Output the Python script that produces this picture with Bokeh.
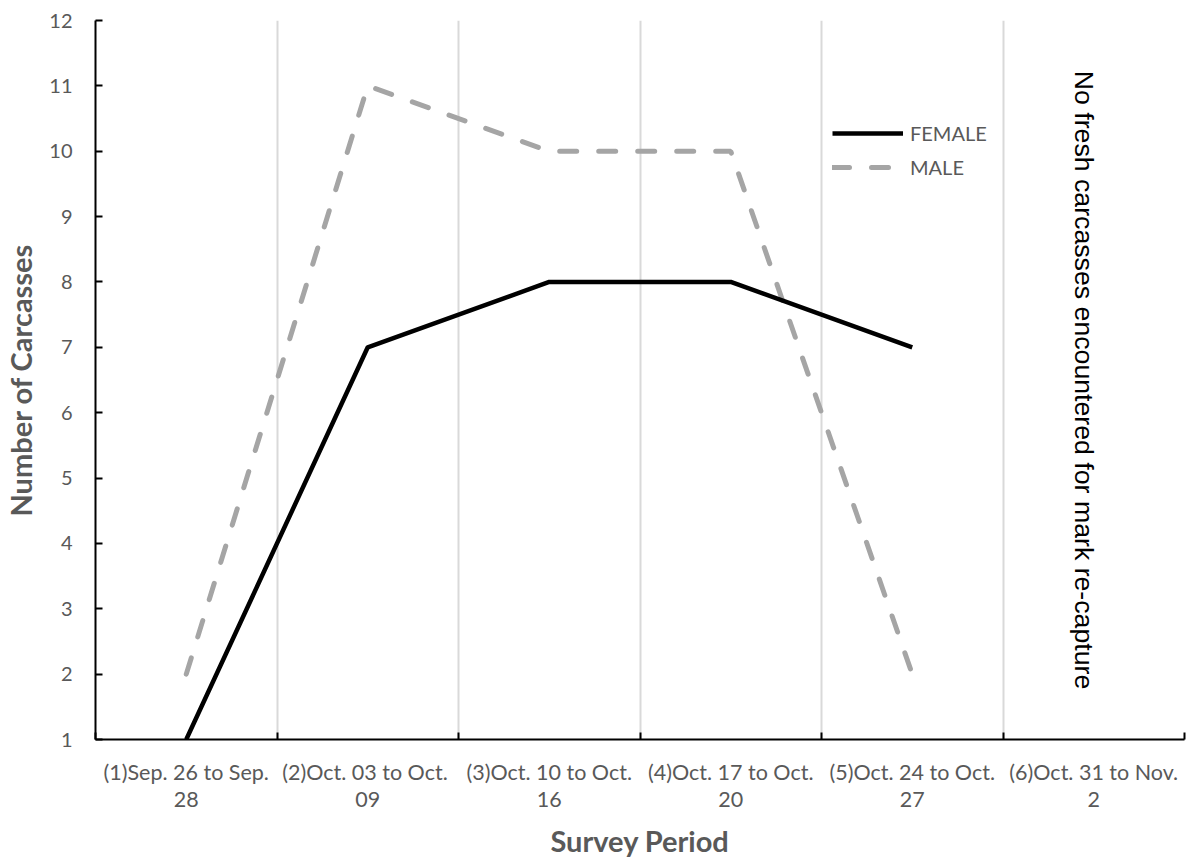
from bokeh.plotting import figure
from bokeh.models import (ColumnDataSource, FixedTicker, Range1d, Legend, LegendItem, Label)
from bokeh.embed import file_html
from bokeh.resources import INLINE

periods = ["(1)Sep. 26 to Sep.\n28", "(2)Oct. 03  to Oct.\n09", "(3)Oct. 10 to Oct.\n16",
           "(4)Oct. 17 to Oct.\n20", "(5)Oct. 24 to Oct.\n27", "(6)Oct. 31 to Nov.\n2"]
female = [1, 7, 8, 8, 7]
male = [2, 11, 10, 10, 2]
note = "No fresh carcasses encountered for mark re-capture"

FONT = "Lato"
GREY_TXT = "#595959"

centers = [i + 0.5 for i in range(len(periods))]
bounds = list(range(len(periods) + 1))

p = figure(width=1186, height=860, output_backend="svg", toolbar_location=None,
           x_range=Range1d(0, len(periods)), y_range=Range1d(1, 12),
           min_border_left=94, min_border_top=20, min_border_right=2, min_border_bottom=119)
p.outline_line_color = None
p.background_fill_color = "white"
p.border_fill_color = "white"

src_f = ColumnDataSource(dict(x=centers[:len(female)], y=female))
src_m = ColumnDataSource(dict(x=centers[:len(male)], y=male))

rm = p.line("x", "y", source=src_m, line_color="#A5A5A5", line_width=5,
            line_dash="17 22", line_cap="round")
rf = p.line("x", "y", source=src_f, line_color="black", line_width=4.5, line_join="round")

# axes
xa = p.xaxis[0]
xa.ticker = FixedTicker(ticks=centers, minor_ticks=bounds)
xa.major_label_overrides = {c: lab for c, lab in zip(centers, periods)}
xa.major_tick_in = 0
xa.major_tick_out = 0
xa.minor_tick_in = 7
xa.minor_tick_out = 0
xa.minor_tick_line_color = "black"
xa.minor_tick_line_width = 2
xa.axis_line_color = "black"
xa.axis_line_width = 2
xa.major_label_text_font = FONT
xa.major_label_text_font_size = "21.5px"
xa.major_label_text_color = GREY_TXT
xa.major_label_text_line_height = 1.05
xa.major_label_standoff = 19
xa.axis_label = "Survey Period"
xa.axis_label_text_font = FONT
xa.axis_label_text_font_size = "29px"
xa.axis_label_text_font_style = "bold"
xa.axis_label_text_color = GREY_TXT
xa.axis_label_standoff = 8

ya = p.yaxis[0]
ya.ticker = FixedTicker(ticks=list(range(1, 13)))
ya.major_tick_in = 7
ya.major_tick_out = 0
ya.major_tick_line_width = 2
ya.minor_tick_line_color = None
ya.axis_line_color = "black"
ya.axis_line_width = 2
ya.major_label_text_font = FONT
ya.major_label_text_font_size = "20px"
ya.major_label_text_color = GREY_TXT
ya.major_label_standoff = 23
ya.axis_label = "Number of Carcasses"
ya.axis_label_text_font = FONT
ya.axis_label_text_font_size = "29px"
ya.axis_label_text_font_style = "bold"
ya.axis_label_text_color = GREY_TXT
ya.axis_label_standoff = 8

p.xgrid.ticker = FixedTicker(ticks=bounds[1:-1])
p.xgrid.grid_line_color = "#D9D9D9"
p.xgrid.grid_line_width = 2
p.ygrid.grid_line_color = None

legend = Legend(items=[LegendItem(label="FEMALE", renderers=[rf]),
                       LegendItem(label="MALE", renderers=[rm])],
                location=(737, 560))
legend.background_fill_alpha = 0
legend.border_line_color = None
legend.padding = 0
legend.margin = 0
legend.spacing = 10
legend.glyph_width = 71
legend.glyph_height = 22
legend.label_height = 22
legend.label_standoff = 7
legend.label_text_font = FONT
legend.label_text_font_size = "20px"
legend.label_text_color = GREY_TXT
p.add_layout(legend, "center")

lab = Label(x=centers[-1], y=6.5, x_offset=-10, text=note, angle=-1.5707963, text_align="center",
            text_baseline="middle", text_font="Liberation Sans", text_font_size="26.7px",
            text_color="black")
p.add_layout(lab)

open("out.html", "w").write(file_html(p, INLINE))
